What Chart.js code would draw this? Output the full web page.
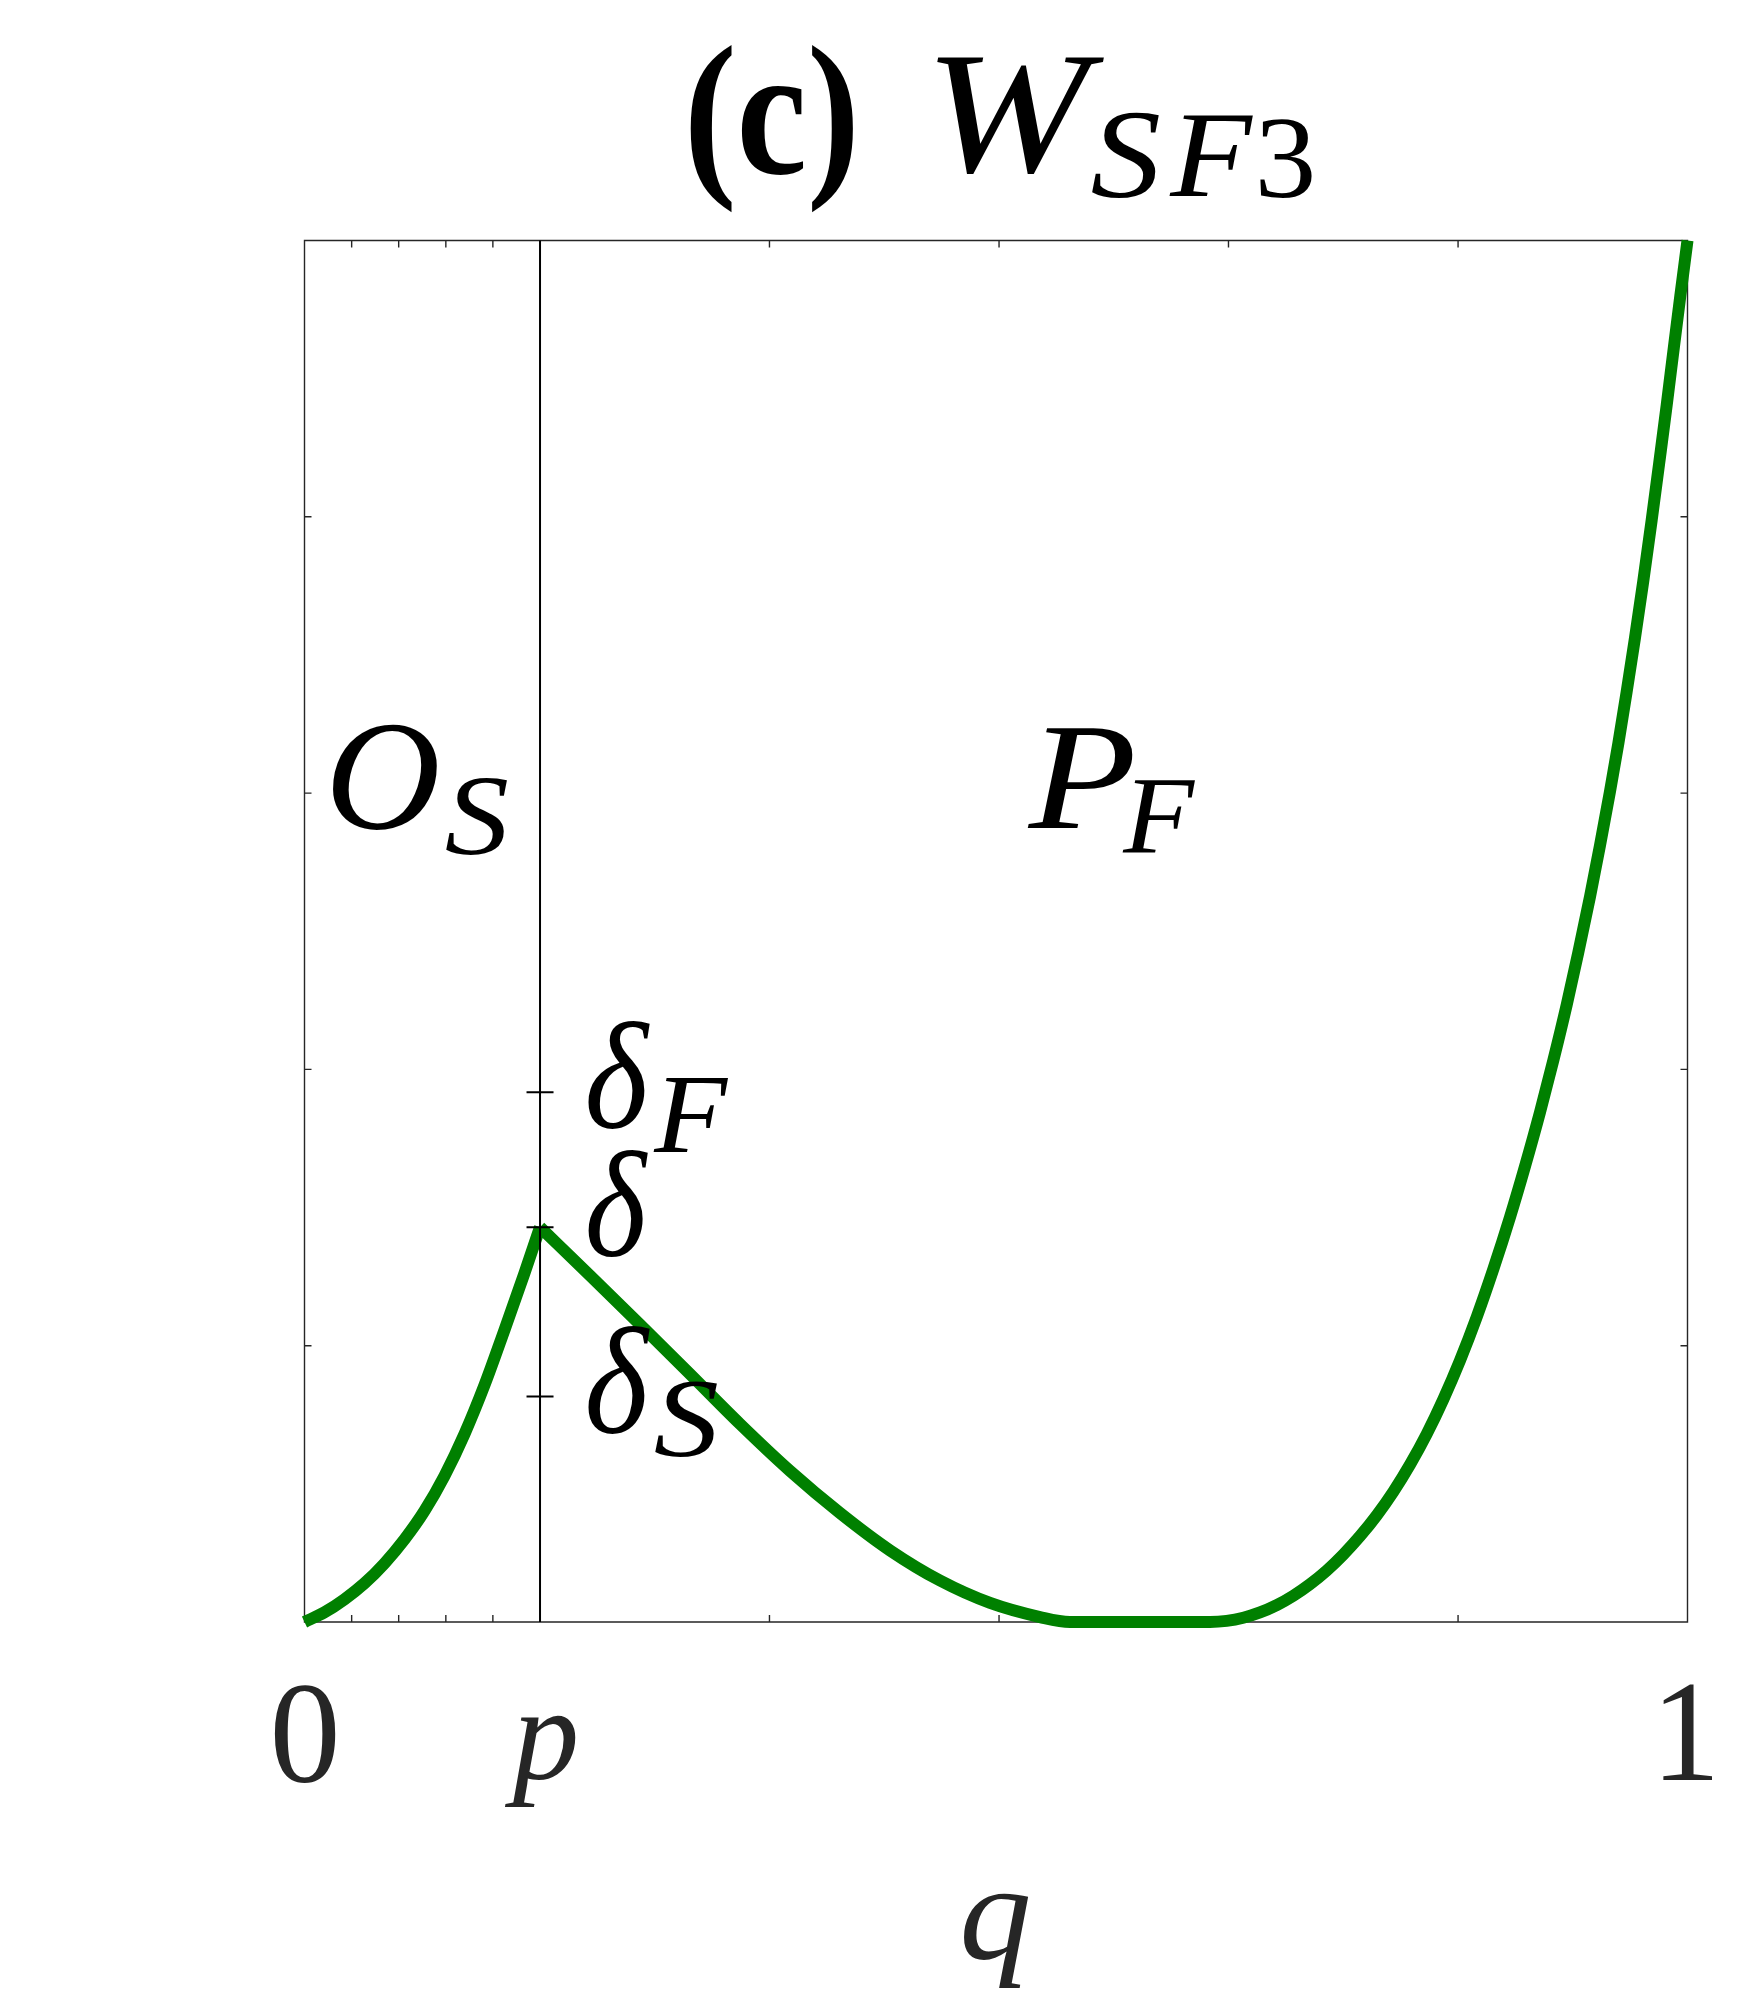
<!DOCTYPE html>
<html>
<head>
<meta charset="utf-8">
<script src="https://cdn.jsdelivr.net/npm/chart.js@4.4.0/dist/chart.umd.min.js"></script>
<style>
html,body{margin:0;padding:0;background:#ffffff;}
canvas{display:block;}
</style>
</head>
<body>
<canvas id="c" width="1750" height="2013"></canvas>
<script>
// ---------------- data ----------------
const pValue = 0.1703;
// W_SF3 on [0, p]
const qRising = [0, 0.0145, 0.0289, 0.0434, 0.0578, 0.0723, 0.0868, 0.1012, 0.1157, 0.1302, 0.1446, 0.1591, 0.1703];
const wRising = [0, 0.0070, 0.0164, 0.0280, 0.0424, 0.0598, 0.0805, 0.1057, 0.1361, 0.1716, 0.2114, 0.2526, 0.2858];
// W_SF3 on [p, 1]
const qMain = [0.1703, 0.2064, 0.2426, 0.2787, 0.3149, 0.3511, 0.3872, 0.4234, 0.4595, 0.4957, 0.5318, 0.5535,
               0.6548, 0.6668, 0.6788, 0.6909, 0.7030, 0.7150, 0.7270, 0.7391, 0.7511, 0.7632, 0.7753, 0.7873,
               0.7993, 0.8114, 0.8234, 0.8355, 0.8476, 0.8596, 0.8717, 0.8825, 0.8934, 0.9030, 0.9127, 0.9210,
               0.9295, 0.9367, 0.9440, 0.9500, 0.9560, 0.9620, 0.9680, 0.9741, 0.9801, 0.9850, 0.9897, 0.9948, 1.0];
const wMain = [0.2858, 0.2508, 0.2153, 0.1795, 0.1433, 0.1093, 0.0789, 0.0518, 0.0300, 0.0138, 0.0036, 0,
               0, 0.0008, 0.0031, 0.0069, 0.0122, 0.0190, 0.0273, 0.0372, 0.0488, 0.0621, 0.0772, 0.0943,
               0.1138, 0.1360, 0.1611, 0.1893, 0.2208, 0.2554, 0.2932, 0.3298, 0.3692, 0.4066, 0.4469, 0.4844,
               0.5249, 0.5620, 0.6014, 0.6360, 0.6733, 0.7122, 0.7532, 0.7976, 0.8432, 0.8811, 0.9191, 0.9598, 1.0];
// vertical line q = p
const pLineY = [0, 1];
// tick positions
const xTickValues = [0.0341, 0.0681, 0.1022, 0.1362, 0.3362, 0.5022, 0.6681, 0.8341];
const yTickValues = [0.2, 0.4, 0.6, 0.8];
const deltaTickValues = [0.3835, 0.2858, 0.1633];   // delta_F, delta, delta_S
const xTickLabelValues = [0, pValue, 1];
const xTickLabels = ['0', 'p', '1'];
const deltaLabels = ['δ', 'δ', 'δ'];
const deltaSubs = ['F', '', 'S'];

// ---------------- chart ----------------
const FAM = '"Liberation Serif", "Times New Roman", serif';
const AXIS_COLOR = '#262626';

function drawInk(ctx, text, style, box, color) {
  const ref = 200;
  ctx.save();
  ctx.font = style + ' ' + ref + 'px ' + FAM;
  ctx.textAlign = 'left';
  ctx.textBaseline = 'alphabetic';
  const m = ctx.measureText(text);
  const inkL = -m.actualBoundingBoxLeft;
  const inkR = m.actualBoundingBoxRight;
  const inkT = -m.actualBoundingBoxAscent;
  const inkB = m.actualBoundingBoxDescent;
  const sx = (box.r - box.l) / (inkR - inkL);
  const sy = (box.b - box.t) / (inkB - inkT);
  ctx.translate(box.l - inkL * sx, box.t - inkT * sy);
  ctx.scale(sx, sy);
  ctx.fillStyle = color;
  ctx.fillText(text, 0, 0);
  ctx.restore();
}

const boxPlugin = {
  id: 'boxPlugin',
  beforeDatasetsDraw(chart) {
    const ctx = chart.ctx;
    const xs = chart.scales.x, ys = chart.scales.y;
    const L = xs.getPixelForValue(0), R = xs.getPixelForValue(1);
    const B = ys.getPixelForValue(0), T = ys.getPixelForValue(1);
    const tl = 7;
    ctx.save();
    ctx.strokeStyle = AXIS_COLOR;
    ctx.lineWidth = 1.4;
    ctx.beginPath();
    ctx.rect(L, T, R - L, B - T);
    xTickValues.forEach(v => {
      const x = xs.getPixelForValue(v);
      ctx.moveTo(x, B); ctx.lineTo(x, B - tl);
      ctx.moveTo(x, T); ctx.lineTo(x, T + tl);
    });
    yTickValues.forEach(v => {
      const y = ys.getPixelForValue(v);
      ctx.moveTo(L, y); ctx.lineTo(L + tl, y);
      ctx.moveTo(R, y); ctx.lineTo(R - tl, y);
    });
    ctx.stroke();
    ctx.restore();
  },
  afterDatasetsDraw(chart) {
    const ctx = chart.ctx;
    const xs = chart.scales.x, ys = chart.scales.y;
    const px = xs.getPixelForValue(pValue);
    // ticks on the q = p line
    ctx.save();
    ctx.strokeStyle = '#000000';
    ctx.lineWidth = 2;
    ctx.beginPath();
    deltaTickValues.forEach(v => {
      const y = ys.getPixelForValue(v);
      ctx.moveTo(px - 13.5, y); ctx.lineTo(px + 13.5, y);
    });
    ctx.stroke();
    ctx.restore();

    // x tick labels
    const tickBoxes = [
      {w: 61.1, t: 1685.7, b: 1783, style: 'normal'},
      {w: 70.5, t: 1715, b: 1806.7, style: 'italic'},
      {w: 49, t: 1685, b: 1780, style: 'normal'}
    ];
    xTickLabelValues.forEach((v, i) => {
      const cx = xs.getPixelForValue(v) + (i === 0 ? 0.6 : 0);
      const tb = tickBoxes[i];
      drawInk(ctx, xTickLabels[i], tb.style, {l: cx - tb.w / 2, r: cx + tb.w / 2, t: tb.t, b: tb.b}, AXIS_COLOR);
    });
    // x axis title q
    const cq = (xs.getPixelForValue(0) + xs.getPixelForValue(1)) / 2;
    drawInk(ctx, 'q', 'italic', {l: cq - 32.5, r: cq + 32.5, t: 1893, b: 1988}, AXIS_COLOR);

    // delta labels
    const dBoxes = [
      {d: {l: 588, r: 650, t: 1023, b: 1130}, s: {l: 653, r: 728, t: 1079, b: 1152}},
      {d: {l: 588, r: 648, t: 1152, b: 1258}, s: null},
      {d: {l: 588, r: 650, t: 1328, b: 1435}, s: {l: 655, r: 717, t: 1382, b: 1457}}
    ];
    deltaLabels.forEach((t, i) => {
      drawInk(ctx, t, 'italic', dBoxes[i].d, '#000');
      if (deltaSubs[i]) drawInk(ctx, deltaSubs[i], 'italic', dBoxes[i].s, '#000');
    });

    // region labels
    drawInk(ctx, 'O', 'italic', {l: 333, r: 437, t: 725, b: 830}, '#000');
    drawInk(ctx, 'S', 'italic', {l: 446, r: 507, t: 778, b: 855}, '#000');
    drawInk(ctx, 'P', 'italic', {l: 1027, r: 1133, t: 728, b: 828}, '#000');
    drawInk(ctx, 'F', 'italic', {l: 1122, r: 1195, t: 780, b: 852}, '#000');

    // title
    drawInk(ctx, '(c)', 'bold', {l: 690, r: 853, t: 45, b: 212}, '#000');
    drawInk(ctx, 'W', 'italic', {l: 937, r: 1104, t: 57, b: 174}, '#000');
    drawInk(ctx, 'S', 'italic', {l: 1092, r: 1159, t: 113, b: 198}, '#000');
    drawInk(ctx, 'F', 'italic', {l: 1169, r: 1253, t: 116, b: 196}, '#000');
    drawInk(ctx, '3', 'normal', {l: 1260, r: 1312, t: 120, b: 198}, '#000');
  }
};

const toPts = (xs, ys) => xs.map((x, i) => ({x: x, y: ys[i]}));

new Chart(document.getElementById('c'), {
  type: 'line',
  data: {
    datasets: [
      {
        data: toPts([pValue, pValue], pLineY),
        borderColor: '#000000', borderWidth: 2, pointRadius: 0, tension: 0, clip: false
      },
      {
        data: toPts(qRising, wRising),
        borderColor: '#008000', borderWidth: 12, pointRadius: 0,
        cubicInterpolationMode: 'monotone', borderCapStyle: 'butt', borderJoinStyle: 'round', clip: false
      },
      {
        data: toPts(qMain, wMain),
        borderColor: '#008000', borderWidth: 12, pointRadius: 0,
        cubicInterpolationMode: 'monotone', borderCapStyle: 'butt', borderJoinStyle: 'round', clip: false
      }
    ]
  },
  options: {
    responsive: false,
    animation: false,
    devicePixelRatio: 1,
    layout: {padding: {left: 304.5, right: 62.5, top: 240.5, bottom: 391}},
    plugins: {legend: {display: false}, title: {display: false}, tooltip: {enabled: false}},
    scales: {
      x: {type: 'linear', min: 0, max: 1, display: false},
      y: {type: 'linear', min: 0, max: 1, display: false}
    },
    events: []
  },
  plugins: [boxPlugin]
});
</script>
</body>
</html>
